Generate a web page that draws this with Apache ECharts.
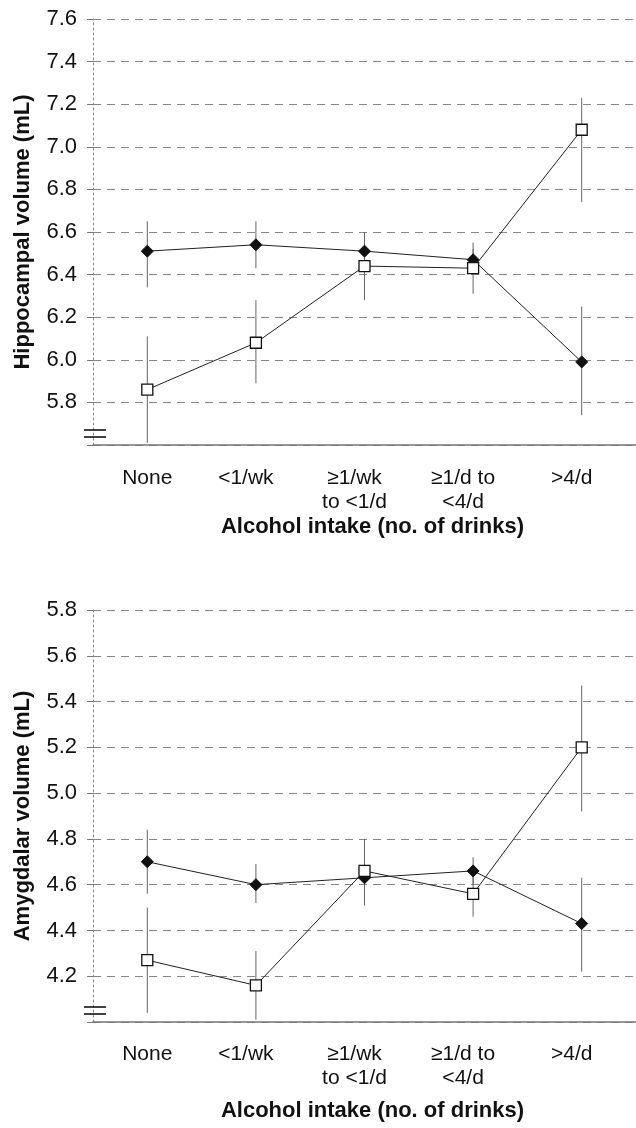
<!DOCTYPE html>
<html>
<head>
<meta charset="utf-8">
<script src="https://cdn.jsdelivr.net/npm/echarts@6/dist/echarts.min.js"></script>
<style>
html,body{margin:0;padding:0;background:#fff;}
#c{width:636px;height:1128px;}
</style>
</head>
<body>
<div id="c"></div>
<script>
// ---- data ----
const categories = ['None', '<1/wk', '≥1/wk\nto <1/d', '≥1/d to\n<4/d', '>4/d'];
const xTitle = 'Alcohol intake (no. of drinks)';

// Hippocampal volume (mL)
const hippoTitle = 'Hippocampal volume (mL)';
const hippoAxis = { min: 5.6, max: 7.6, step: 0.2 };
const hippoFilled = [6.51, 6.54, 6.51, 6.47, 5.99];
const hippoFilledLow = [6.34, 6.43, 6.42, 6.40, 5.74];
const hippoFilledHigh = [6.65, 6.65, 6.60, 6.55, 6.25];
const hippoOpen = [5.86, 6.08, 6.44, 6.43, 7.08];
const hippoOpenLow = [5.61, 5.89, 6.28, 6.31, 6.74];
const hippoOpenHigh = [6.11, 6.28, 6.60, 6.52, 7.23];

// Amygdalar volume (mL)
const amygTitle = 'Amygdalar volume (mL)';
const amygAxis = { min: 4.0, max: 5.8, step: 0.2 };
const amygFilled = [4.70, 4.60, 4.63, 4.66, 4.43];
const amygFilledLow = [4.56, 4.52, 4.51, 4.60, 4.22];
const amygFilledHigh = [4.84, 4.69, 4.75, 4.72, 4.63];
const amygOpen = [4.27, 4.16, 4.66, 4.56, 5.20];
const amygOpenLow = [4.04, 4.01, 4.51, 4.46, 4.92];
const amygOpenHigh = [4.50, 4.31, 4.80, 4.66, 5.47];

// ---- layout / style ----
const FONT = '"Liberation Sans", Arial, sans-serif';
const grids = [
  { left: 93, top: 19, width: 551, height: 426, labelMargin: 21, nameGap: 71 },
  { left: 93, top: 610, width: 550, height: 412, labelMargin: 20, nameGap: 78 }
];

function xAxisFor(i) {
  const g = grids[i];
  return {
    type: 'category', gridIndex: i,
    data: categories.map((c, k) => ({ value: c, textStyle: { padding: k === 0 ? [0, 0, 0, 0] : [0, 20, 0, 0] } })),
    boundaryGap: true,
    axisLine: { show: true, lineStyle: { color: '#777', width: 1.5 } },
    axisTick: { show: false },
    splitLine: { show: false },
    axisLabel: { fontFamily: FONT, fontSize: 21, color: '#111', margin: g.labelMargin, lineHeight: 24 },
    name: xTitle, nameLocation: 'middle', nameGap: g.nameGap,
    nameTextStyle: { fontFamily: FONT, fontSize: 22, fontWeight: 'bold', color: '#111', padding: [0, 0, 0, 16] }
  };
}
function yAxisFor(i, ax, title) {
  return {
    type: 'value', gridIndex: i, min: ax.min, max: ax.max, interval: ax.step,
    axisLine: { show: true, lineStyle: { color: '#888', width: 1, type: [2, 3] } },
    axisTick: { show: true, length: 6, lineStyle: { color: '#777' } },
    axisLabel: {
      fontFamily: FONT, fontSize: 22, color: '#111', margin: 16,
      formatter: v => (Math.abs(v - ax.min) < 1e-9 ? '' : v.toFixed(1))
    },
    splitLine: { show: true, lineStyle: { color: '#888', width: 1, type: [8, 6] } },
    name: title, nameLocation: 'middle', nameGap: 59,
    nameTextStyle: { fontFamily: FONT, fontSize: 22, fontWeight: 'bold', color: '#111' }
  };
}
function errSeries(i, low, high) {
  return {
    type: 'custom', xAxisIndex: i, yAxisIndex: i, silent: true, z: 1,
    data: low.map((l, k) => [k, l, high[k]]),
    encode: { x: 0, y: [1, 2] },
    renderItem: function (params, api) {
      const a = api.coord([api.value(0), api.value(1)]);
      const b = api.coord([api.value(0), api.value(2)]);
      return { type: 'line', shape: { x1: a[0], y1: a[1], x2: b[0], y2: b[1] }, style: { stroke: '#666', lineWidth: 1 } };
    }
  };
}
function lineSeries(i, name, vals, filled) {
  return {
    type: 'line', name: name, xAxisIndex: i, yAxisIndex: i, data: vals, z: 3,
    symbol: filled ? 'diamond' : 'rect', symbolSize: filled ? 12 : 11,
    lineStyle: { color: '#222', width: 1 },
    itemStyle: filled ? { color: '#111', borderColor: '#111', borderWidth: 1 }
                      : { color: '#fff', borderColor: '#111', borderWidth: 1.3 },
    emphasis: { disabled: true }
  };
}
function breakMarks(g) {
  const yb = g.top + g.height;
  const mk = dy => ({ type: 'line', shape: { x1: g.left - 9, y1: yb + dy, x2: g.left + 13, y2: yb + dy }, style: { stroke: '#111', lineWidth: 1.6 }, z: 10 });
  return [mk(-15), mk(-8)];
}

const option = {
  animation: false,
  backgroundColor: '#fff',
  grid: grids.map(g => ({ left: g.left, top: g.top, width: g.width, height: g.height })),
  xAxis: [xAxisFor(0), xAxisFor(1)],
  yAxis: [yAxisFor(0, hippoAxis, hippoTitle), yAxisFor(1, amygAxis, amygTitle)],
  series: [
    errSeries(0, hippoFilledLow, hippoFilledHigh),
    errSeries(0, hippoOpenLow, hippoOpenHigh),
    lineSeries(0, 'Filled', hippoFilled, true),
    lineSeries(0, 'Open', hippoOpen, false),
    errSeries(1, amygFilledLow, amygFilledHigh),
    errSeries(1, amygOpenLow, amygOpenHigh),
    lineSeries(1, 'Filled', amygFilled, true),
    lineSeries(1, 'Open', amygOpen, false)
  ],
  graphic: breakMarks(grids[0]).concat(breakMarks(grids[1]))
};

const chart = echarts.init(document.getElementById('c'), null, { renderer: 'canvas' });
chart.setOption(option);
</script>
</body>
</html>
